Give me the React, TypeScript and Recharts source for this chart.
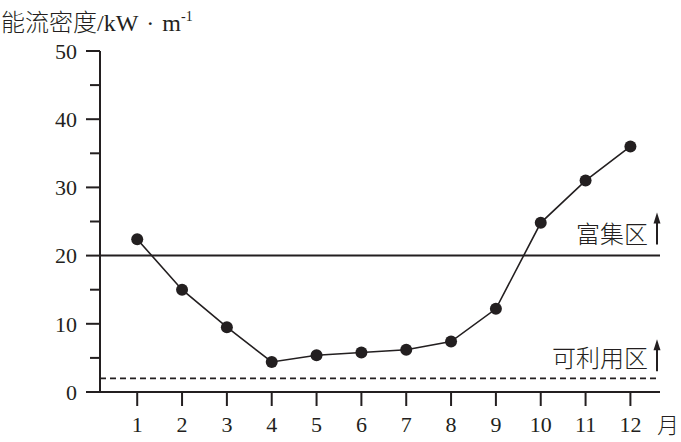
import React from 'react';
import { LineChart, Line, XAxis, YAxis, ReferenceLine } from 'recharts';

const months = [1, 2, 3, 4, 5, 6, 7, 8, 9, 10, 11, 12];
const density = [22.4, 15.0, 9.5, 4.4, 5.4, 5.8, 6.2, 7.4, 12.2, 24.8, 31.0, 36.0];
const yTicks = [0, 5, 10, 15, 20, 25, 30, 35, 40, 45, 50];
const richLevel = 20;
const usableLevel = 2;
const richLabel = '富集区';
const usableLabel = '可利用区';
const unitLabel = '月';

const data = months.map((m, i) => ({ month: m, value: density[i] }));

const INK = '#231f20';
const SERIF = "'Liberation Serif', 'Times New Roman', 'Noto Sans CJK SC', serif";
const CJK = "'Noto Sans CJK SC', sans-serif";

const XTick = (props: any) => {
  const { x, y, payload } = props;
  return (
    <g>
      <line x1={x} y1={y} x2={x} y2={y + 14} stroke={INK} strokeWidth={2} />
      <text x={x} y={y + 40} textAnchor="middle" fontSize={22} fontFamily={SERIF} fill={INK}>
        {payload.value}
      </text>
    </g>
  );
};

const YTick = (props: any) => {
  const { x, y, payload } = props;
  const major = payload.value % 10 === 0;
  const len = major ? 14 : 10;
  return (
    <g>
      <line x1={x - len} y1={y} x2={x} y2={y} stroke={INK} strokeWidth={2} />
      {major && (
        <text x={x - 23} y={y} dy="0.35em" textAnchor="end" fontSize={22} fontFamily={SERIF} fill={INK}>
          {payload.value}
        </text>
      )}
    </g>
  );
};

const zoneLabel = (text: string, textDy: number, arrowTop: number, arrowBottom: number) => (props: any) => {
  const { viewBox } = props;
  const right = viewBox.x + viewBox.width;
  const y = viewBox.y;
  const ax = right - 3;
  return (
    <g>
      <text x={right - 12} y={y + textDy} textAnchor="end" fontSize={24} fontFamily={CJK} fill={INK} fontWeight={300}>
        {text}
      </text>
      <line x1={ax} y1={y + arrowTop + 8} x2={ax} y2={y + arrowBottom} stroke={INK} strokeWidth={2} />
      <path d={`M${ax} ${y + arrowTop} L${ax - 3.5} ${y + arrowTop + 11} L${ax + 3.5} ${y + arrowTop + 11} Z`} fill={INK} />
    </g>
  );
};

export default function App() {
  return (
    <div style={{ position: 'absolute', left: 0, top: 0, width: 681, height: 442, background: '#fff' }}>
      <LineChart width={681} height={442} data={data} margin={{ top: 51, right: 21, bottom: 20, left: 0 }}>
        <XAxis
          dataKey="month"
          type="number"
          domain={[0.17, 12.66]}
          ticks={months}
          interval={0}
          allowDataOverflow
          height={30}
          axisLine={{ stroke: INK, strokeWidth: 2 }}
          tickLine={false}
          tickSize={0}
          tickMargin={0}
          tick={<XTick />}
        />
        <YAxis
          type="number"
          domain={[0, 50]}
          ticks={yTicks}
          interval={0}
          allowDataOverflow
          width={100}
          axisLine={{ stroke: INK, strokeWidth: 2 }}
          tickLine={false}
          tickSize={0}
          tickMargin={0}
          tick={<YTick />}
        />
        <ReferenceLine
          y={richLevel}
          stroke={INK}
          strokeWidth={2}
          label={{ content: zoneLabel(richLabel, -13, -43, -11) }}
        />
        <ReferenceLine
          y={usableLevel}
          stroke={INK}
          strokeWidth={1.8}
          strokeDasharray="6 4"
          label={{ content: zoneLabel(usableLabel, -11, -39, -7) }}
        />
        <Line
          type="linear"
          dataKey="value"
          stroke={INK}
          strokeWidth={1.6}
          dot={{ r: 6, fill: INK, stroke: INK, strokeWidth: 0 }}
          isAnimationActive={false}
        />
      </LineChart>
      <svg width={681} height={442} style={{ position: 'absolute', left: 0, top: 0, pointerEvents: 'none' }}>
        <text x={1} y={31} fontSize={24} fontFamily={SERIF} fill={INK}>
          <tspan fontFamily={CJK} fontWeight={300}>能流密度</tspan>
          <tspan>/kW</tspan>
          <tspan dx={8}>·</tspan>
          <tspan dx={8}>m</tspan>
          <tspan fontSize={14} dy={-10}>-1</tspan>
        </text>
        <text x={657} y={433} fontSize={22} fontFamily={CJK} fontWeight={300} fill={INK}>
          {unitLabel}
        </text>
      </svg>
    </div>
  );
}
